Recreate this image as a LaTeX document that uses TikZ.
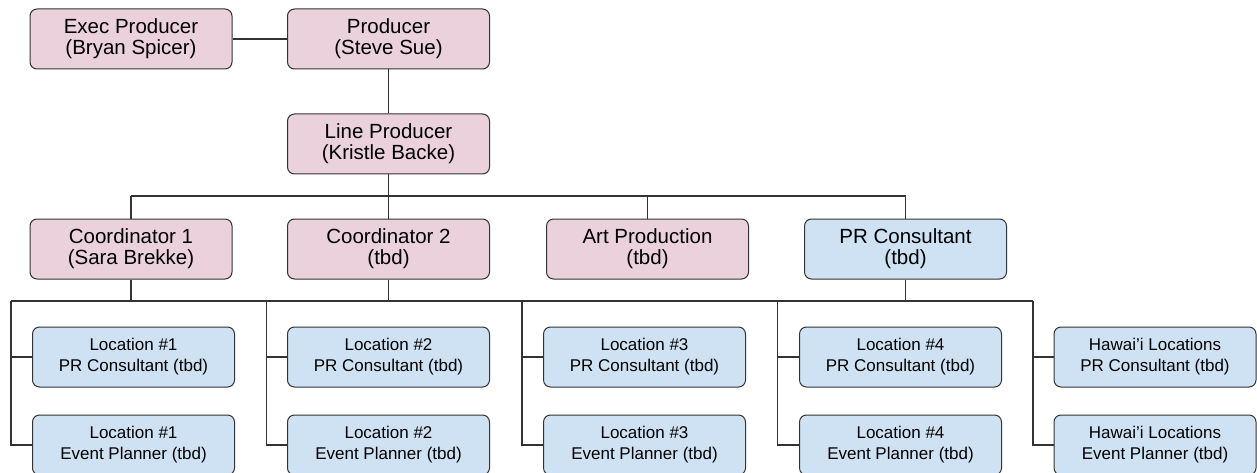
\documentclass[tikz,border=0pt]{standalone}
\usepackage{fontspec}
\setmainfont{Liberation Sans}
\definecolor{pinkfill}{HTML}{EAD1DC}
\definecolor{bluefill}{HTML}{CFE2F3}
\definecolor{edge}{HTML}{333333}
\tikzset{
  box/.style={draw=edge, line width=1pt, rounded corners=7pt, minimum width=202pt,
    minimum height=60pt, inner sep=0pt, align=center, text=black},
  upper/.style={box, fill=pinkfill, font=\fontsize{20.5}{21}\selectfont},
  upperblue/.style={box, fill=bluefill, font=\fontsize{20.5}{21}\selectfont},
  lower/.style={box, fill=bluefill, font=\fontsize{17}{21}\selectfont},
  link/.style={draw=edge, line width=1.3pt}
}
\begin{document}
\begin{tikzpicture}[x=1pt,y=-1pt]
\useasboundingbox (0,0) rectangle (1257,473);
\begin{scope}
\clip (0,0) rectangle (1257,473);

% top management
\node[upper] (exec) at (131,39) {Exec Producer\\(Bryan Spicer)};
\node[upper] (prod) at (388.5,39) {Producer\\(Steve Sue)};
\node[upper] (line) at (388.5,144) {Line Producer\\(Kristle Backe)};

% department heads
\node[upper] (coordA) at (131,249) {Coordinator 1\\(Sara Brekke)};
\node[upper] (coordB) at (388.5,249) {Coordinator 2\\(tbd)};
\node[upper] (art) at (647.5,249) {Art Production\\(tbd)};
\node[upperblue] (prc) at (905.5,249) {PR Consultant\\(tbd)};

% location teams
\foreach \i/\x/\name in {1/133.5/Location \#1, 2/388.5/Location \#2, 3/644.5/Location \#3,
                        4/900.5/Location \#4, 5/1155/Hawai’i Locations}{
  \node[lower] (pr\i) at (\x,357) {\name\\PR Consultant (tbd)};
  \node[lower] (ev\i) at (\x,445) {\name\\Event Planner (tbd)};
}

% bus coordinates
\coordinate (busA) at (0,196);
\coordinate (busB) at (0,301);
\foreach \i/\x in {1/11, 2/266.5, 3/522, 4/777.5, 5/1033}{
  \coordinate (col\i) at (\x,301);
}

% connectors
\draw[link] (exec.east) -- (prod.west);
\draw[link] (prod.south) -- (line.south |- line.north);
\draw[link] (line.south) -- (line.south |- busA);
\draw[link] (coordA.north |- busA) -- (prc.north |- busA);
\foreach \n in {coordA, coordB, art, prc}{
  \draw[link] (\n.north |- busA) -- (\n.north);
}
\draw[link] (col1) -- (col5);
\foreach \n in {coordA, coordB, prc}{
  \draw[link] (\n.south) -- (\n.south |- busB);
}
\foreach \i in {1,...,5}{
  \draw[link] (col\i) |- (ev\i.west);
  \draw[link] (col\i |- pr\i.west) -- (pr\i.west);
}
\end{scope}
\end{tikzpicture}
\end{document}
